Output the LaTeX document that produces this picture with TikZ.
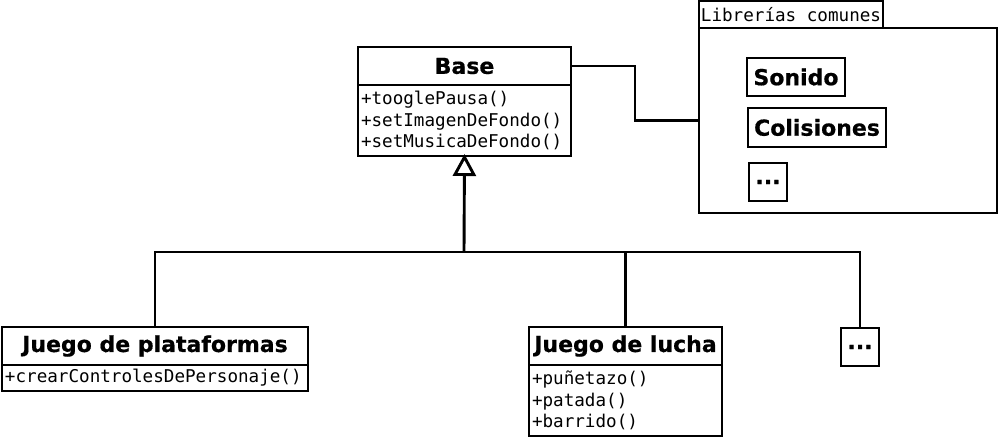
\documentclass[tikz,border=0pt]{standalone}
\usepackage{fontspec}
\setmainfont{DejaVu Sans}[BoldFeatures={FakeBold=0.6}]
\newfontfamily\monof{DejaVu Sans Mono}
\usetikzlibrary{arrows.meta}
\begin{document}
\begin{tikzpicture}[x=1pt,y=-1pt,
  lw/.style={line width=2.9pt},
  titlebox/.style={draw,lw,rectangle,inner sep=0pt,outer sep=0pt,font=\fontsize{22}{25}\selectfont\bfseries},
  methbox/.style={draw,lw,rectangle,inner sep=3pt,outer sep=0pt,anchor=north west,align=left,font=\fontsize{17.6}{21.5}\selectfont\monof},
  conn/.style={lw},
  inherit/.style={lw,-{Triangle[open,width=23pt,length=22pt,line width=2.9pt]}}
]
\useasboundingbox (0,0) rectangle (1000,438);

% Base class
\node[titlebox,minimum width=213pt,minimum height=38pt] (base) at (464.5,66) {Base};
\node[methbox,minimum width=213pt,minimum height=71pt,text width=207pt] (basem) at (358,85)
  {+tooglePausa()\\+setImagenDeFondo()\\+setMusicaDeFondo()};

% Package
\node[draw,lw,rectangle,inner sep=0pt,outer sep=0pt,minimum width=184pt,minimum height=27pt,font=\fontsize{17.6}{20}\selectfont\monof] (libtab) at (791,14.5) {Librerías comunes};
\node[draw,lw,rectangle,inner sep=0pt,outer sep=0pt,minimum width=298pt,minimum height=185pt] (lib) at (848,120.5) {};
\node[titlebox,minimum width=98pt,minimum height=38pt] (sonido) at (796,77) {Sonido};
\node[titlebox,minimum width=138pt,minimum height=39pt] (colis) at (817,127.5) {Colisiones};
\node[titlebox,minimum width=38pt,minimum height=38pt] (libdots) at (768,182) {...};

% Subclasses
\node[titlebox,minimum width=306pt,minimum height=38pt] (jp) at (155,346) {Juego de plataformas};
\node[methbox,minimum width=306pt,minimum height=26pt,text width=300pt] (jpm) at (2,365)
  {+crearControlesDePersonaje()};
\node[titlebox,minimum width=193pt,minimum height=38pt] (jl) at (625.5,346) {Juego de lucha};
\node[methbox,minimum width=193pt,minimum height=71pt,text width=187pt] (jlm) at (529,365)
  {+puñetazo()\\+patada()\\+barrido()};
\node[titlebox,minimum width=38pt,minimum height=38pt] (dots) at (860,347) {...};

% Connectors
\coordinate (junc) at (464,252);
\draw[conn] (jp.north) |- (junc);
\draw[conn] (jl.north) |- (junc);
\draw[conn] (dots.north) |- (junc);
\draw[inherit] (junc) -- ([yshift=2pt]basem.south);
\draw[conn] (base.east) -- (635,66) |- (lib.west);
\end{tikzpicture}
\end{document}
